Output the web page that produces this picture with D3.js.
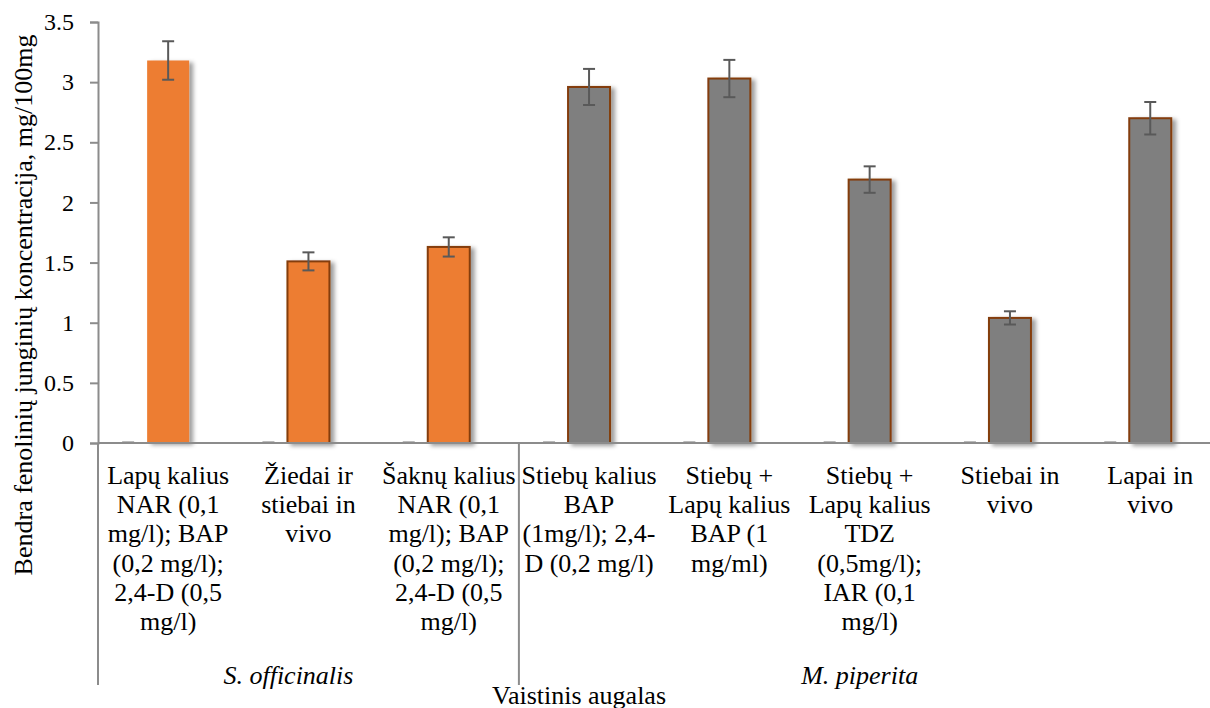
<!DOCTYPE html>
<html>
<head>
<meta charset="utf-8">
<script src="https://cdn.jsdelivr.net/npm/d3@7"></script>
<style>
  html, body { margin: 0; padding: 0; background: #fff; }
  svg text { font-family: "Liberation Serif", "Times New Roman", serif; }
</style>
</head>
<body>
<svg id="chart" width="1210" height="708"></svg>
<script>
// Category labels (line breaks as drawn under the axis)
const categories = [
  "Lapų kalius\nNAR (0,1\nmg/l); BAP\n(0,2 mg/l);\n2,4-D (0,5\nmg/l)",
  "Žiedai ir\nstiebai in\nvivo",
  "Šaknų kalius\nNAR (0,1\nmg/l); BAP\n(0,2 mg/l);\n2,4-D (0,5\nmg/l)",
  "Stiebų kalius\nBAP\n(1mg/l); 2,4-\nD (0,2 mg/l)",
  "Stiebų +\nLapų kalius\nBAP (1\nmg/ml)",
  "Stiebų +\nLapų kalius\nTDZ\n(0,5mg/l);\nIAR (0,1\nmg/l)",
  "Stiebai in\nvivo",
  "Lapai in\nvivo"
];
// Plant species each category belongs to
const plants = ["S. officinalis", "S. officinalis", "S. officinalis",
                "M. piperita", "M. piperita", "M. piperita", "M. piperita", "M. piperita"];
// Total phenolic content, mg/100mg
const values = [3.18, 1.51, 1.63, 2.96, 3.03, 2.19, 1.04, 2.70];
// Standard deviation (error bar half-length)
const errors = [0.16, 0.075, 0.08, 0.15, 0.155, 0.11, 0.055, 0.135];
// Empty companion series (zero-height bars)
const companion = [0, 0, 0, 0, 0, 0, 0, 0];
const yTicks = [0, 0.5, 1, 1.5, 2, 2.5, 3, 3.5];
const yTickLabels = ["0", "0.5", "1", "1.5", "2", "2.5", "3", "3.5"];
const groups = ["S. officinalis", "M. piperita"];

const FONT = "'Liberation Serif', 'Times New Roman', serif";
const svg = d3.select("#chart");
const plotLeft = 98, plotTop = 22, plotBottom = 443;
const bandW = 140.3;

const x = d3.scaleBand().domain(d3.range(categories.length))
  .range([plotLeft, plotLeft + bandW * categories.length]).paddingInner(0).paddingOuter(0);
const y = d3.scaleLinear().domain([0, 3.5]).range([plotBottom, plotTop]);

const defs = svg.append("defs");
const f = defs.append("filter").attr("id", "shadow")
  .attr("x", "-20%").attr("y", "-5%").attr("width", "160%").attr("height", "110%");
f.append("feDropShadow").attr("dx", 4).attr("dy", 2).attr("stdDeviation", 2.2)
  .attr("flood-color", "#000").attr("flood-opacity", 0.38);

const axisColor = "#8c8c8c";
const barW = 42;

// Y axis
const yAxis = svg.append("g").attr("transform", `translate(${plotLeft},0)`)
  .call(d3.axisLeft(y).tickValues(yTicks).tickSize(8)
    .tickFormat((d, i) => yTickLabels[i]))
  .attr("font-family", FONT);
yAxis.select(".domain").attr("stroke", axisColor).attr("stroke-width", 2);
yAxis.selectAll(".tick line").attr("stroke", axisColor).attr("stroke-width", 2);
yAxis.selectAll(".tick text").attr("font-size", 24).attr("fill", "#000")
  .attr("x", -24).attr("dy", "0.32em");

// Bars
const bars = svg.append("g");
bars.selectAll("rect.bar").data(values).join("rect")
  .attr("class", "bar")
  .attr("x", (d, i) => x(i) + x.bandwidth() / 2 - barW / 2)
  .attr("width", barW)
  .attr("y", d => y(d))
  .attr("height", d => y(0) - y(d))
  .attr("fill", (d, i) => plants[i] === groups[0] ? "#ED7D31" : "#7F7F7F")
  .attr("stroke", (d, i) => i === 0 ? "none" : "#843C0C")
  .attr("stroke-width", 2)
  .attr("filter", "url(#shadow)");

// Zero-height companion bars
bars.selectAll("rect.zero").data(companion).join("rect")
  .attr("class", "zero")
  .attr("x", (d, i) => x(i) + x.bandwidth() / 2 - 46)
  .attr("width", 12)
  .attr("y", d => y(d) - 1.5)
  .attr("height", d => y(0) - y(d) + 2)
  .attr("fill", "#777");

// Error bars
const eb = svg.append("g").attr("stroke", "#595959").attr("stroke-width", 2);
values.forEach((v, i) => {
  const cx = x(i) + x.bandwidth() / 2;
  const y1 = y(v + errors[i]), y2 = y(v - errors[i]);
  eb.append("line").attr("x1", cx).attr("x2", cx).attr("y1", y1).attr("y2", y2);
  eb.append("line").attr("x1", cx - 6).attr("x2", cx + 6).attr("y1", y1).attr("y2", y1);
  eb.append("line").attr("x1", cx - 6).attr("x2", cx + 6).attr("y1", y2).attr("y2", y2);
});

// X axis baseline
svg.append("line").attr("x1", plotLeft).attr("x2", plotLeft + bandW * categories.length)
  .attr("y1", plotBottom).attr("y2", plotBottom).attr("stroke", axisColor).attr("stroke-width", 2);

// Group dividers
const groupStarts = [0, 3, 8];
groupStarts.forEach(k => {
  const gx = k < categories.length ? x(k) : plotLeft + bandW * categories.length;
  svg.append("line").attr("x1", gx).attr("x2", gx)
    .attr("y1", plotBottom).attr("y2", 685)
    .attr("stroke", axisColor).attr("stroke-width", 2);
});

// Category labels
const lab = svg.append("g").attr("font-size", 26).attr("font-family", FONT)
  .attr("text-anchor", "middle").attr("fill", "#000");
categories.forEach((c, i) => {
  const t = lab.append("text").attr("x", x(i) + x.bandwidth() / 2).attr("y", 484);
  c.split("\n").forEach((line, j) => {
    t.append("tspan").attr("x", x(i) + x.bandwidth() / 2).attr("dy", j === 0 ? 0 : 29.2).text(line);
  });
});

// Group labels
const groupShift = [-20, -10];
groups.forEach((g, k) => {
  const idx = d3.range(plants.length).filter(i => plants[i] === g);
  const gx0 = x(idx[0]), gx1 = x(idx[idx.length - 1]) + x.bandwidth();
  svg.append("text").attr("x", (gx0 + gx1) / 2 + groupShift[k]).attr("y", 684)
    .attr("text-anchor", "middle").attr("font-size", 26).attr("font-style", "italic")
    .attr("font-family", FONT).text(g);
});

// Axis titles
svg.append("text").attr("x", 579).attr("y", 704).attr("text-anchor", "middle")
  .attr("font-size", 26).attr("font-family", FONT).text("Vaistinis augalas");
svg.append("text").attr("transform", "translate(32,305) rotate(-90)")
  .attr("text-anchor", "middle").attr("font-size", 26).attr("font-family", FONT)
  .text("Bendra fenolinių junginių koncentracija, mg/100mg");
</script>
</body>
</html>
